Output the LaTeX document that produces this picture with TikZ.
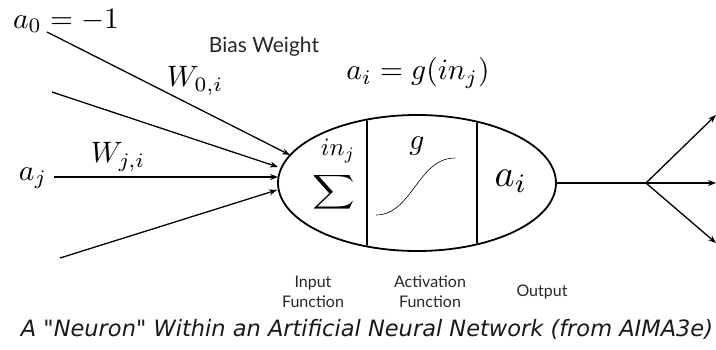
\documentclass[tikz,border=0pt]{standalone}
\usepackage{fontspec}
\newfontfamily\gill{Lato}
\newfontfamily\capfont{DejaVu Sans}
\usetikzlibrary{arrows.meta,shapes.geometric}
\newcommand{\mlab}[1]{\scalebox{2.95}{$#1$}}
\begin{document}
\begin{tikzpicture}[x=1pt,y=-1pt,
  mathlab/.style={inner sep=0pt},
  smalllab/.style={inner sep=0pt, align=center, font=\gill\fontsize{16}{20}\selectfont, text=black!85},
  conn/.style={line width=1.3pt, -{Stealth[length=8pt,width=6pt]}},
  plain/.style={line width=1.3pt}]
\useasboundingbox (0,0) rectangle (716,349);

% neuron
\node[draw, ellipse, line width=1.8pt, minimum width=278pt, minimum height=136pt, inner sep=0pt] (neuron) at (417,183) {};
\begin{scope}
  \clip (417,183) ellipse (138pt and 67pt);
  \draw[line width=1.5pt] (367,100) -- (367,270);
  \draw[line width=1.5pt] (477,100) -- (477,270);
\end{scope}

% contents
\node[inner sep=0pt] (sigma) at (334,192) {\scalebox{2.95}[2.4]{$\displaystyle\sum$}};
\node[mathlab] (inj) at (338,151) {\scalebox{2.5}{$in_j$}};
\node[mathlab] (g) at (417,146) {\mlab{g}};
\draw[line width=0.6pt] (376,215) .. controls (412,215) and (418,158) .. (455,158);
\node[mathlab] (ai) at (511,181) {\scalebox{3.8}{$a_i$}};

% inputs
\coordinate (s0) at (47,32);
\coordinate (s1) at (52,92);
\coordinate (sj) at (54,177);
\coordinate (s3) at (60,258);
\coordinate (t0) at (290,155);
\coordinate (t1) at (278,167);
\coordinate (tj) at (278,177);
\coordinate (t3) at (277,190);
\draw[conn] (s0) -- (t0);
\draw[conn] (s1) -- (t1);
\draw[conn] (sj) -- (tj);
\draw[conn] (s3) -- (t3);

% outputs
\coordinate (oe) at (556,183);
\coordinate (fork) at (646,183);
\coordinate (o1) at (716,115);
\coordinate (o2) at (716,183);
\coordinate (o3) at (716,243);
\draw[plain] (oe) -- (fork);
\draw[conn] (fork) -- (o1);
\draw[conn] (fork) -- (o2);
\draw[conn] (fork) -- (o3);

% labels
\node[mathlab] (a0) at (66,21) {\mlab{a_0 = -1}};
\node[mathlab] (aj) at (33,178) {\mlab{a_j}};
\node[mathlab] (w0) at (195,81) {\mlab{W_{0,i}}};
\node[mathlab] (wj) at (118,157) {\mlab{W_{j,i}}};
\node[mathlab] (eq) at (418,73) {\mlab{a_i = g(in_j)}};
\node[inner sep=0pt, font=\gill\fontsize{21}{24}\selectfont, text=black!85] (bias) at (264,47) {Bias Weight};

\node[smalllab] (inf) at (313,292) {Input\\Function};
\node[smalllab] (acf) at (430,292) {Activation\\Function};
\node[smalllab] (outl) at (542,292) {Output};

\node[inner sep=0pt, font=\capfont\itshape\fontsize{22.5}{24}\selectfont, text=black!90] (cap) at (367,329) {A "Neuron" Within an Artificial Neural Network (from AIMA3e)};
\end{tikzpicture}
\end{document}
